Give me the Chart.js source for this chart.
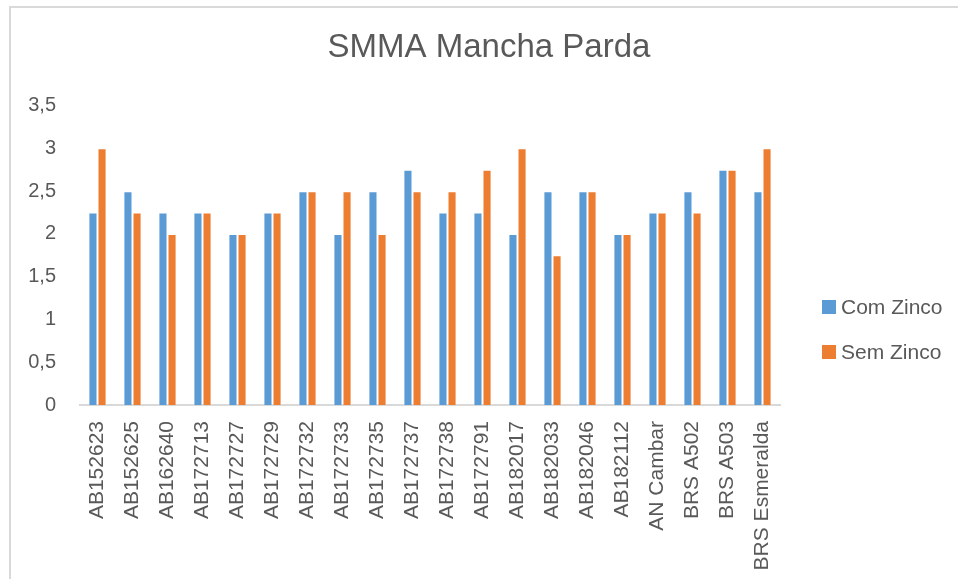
<!DOCTYPE html>
<html>
<head>
<meta charset="utf-8">
<script src="https://cdn.jsdelivr.net/npm/chart.js@4/dist/chart.umd.min.js"></script>
<style>
  html, body { margin: 0; padding: 0; background: #fff; }
  body { width: 958px; height: 579px; position: relative; overflow: hidden; font-family: "Liberation Sans", Arial, sans-serif; }
  #frame { position: absolute; left: 9px; top: 6px; width: 1000px; height: 700px; border-left: 2px solid #d9d9d9; border-top: 2px solid #d9d9d9; box-sizing: border-box; }
  #wrap { position: absolute; left: 0; top: 0; width: 958px; height: 579px; }
  #legend { position: absolute; left: 822px; top: 296px; }
  .item { position: absolute; left: 0; height: 22px; white-space: nowrap; }
  .sw { position: absolute; left: 0; top: 4px; width: 14px; height: 14px; }
  .lt { position: absolute; left: 19px; top: 0; font-size: 21px; line-height: 22px; color: #595959; }
</style>
</head>
<body>
<div id="frame"></div>
<div id="wrap"><canvas id="c" width="958" height="579"></canvas></div>
<div id="legend"></div>
<script>
const titleText = "SMMA Mancha Parda";
const categories = ["AB152623","AB152625","AB162640","AB172713","AB172727","AB172729","AB172732","AB172733","AB172735","AB172737","AB172738","AB172791","AB182017","AB182033","AB182046","AB182112","AN Cambar","BRS A502","BRS A503","BRS Esmeralda"];
const seriesNames = ["Com Zinco", "Sem Zinco"];
const comZinco = [2.25,2.5,2.25,2.25,2,2.25,2.5,2,2.5,2.75,2.25,2.25,2,2.5,2.5,2,2.25,2.5,2.75,2.5];
const semZinco = [3,2.25,2,2.25,2,2.25,2.5,2.5,2,2.5,2.5,2.75,3,1.75,2.5,2,2.25,2.25,2.75,3];
const yTicks = [0,0.5,1,1.5,2,2.5,3,3.5];
const colors = ["#5B9BD5", "#ED7D31"];

const textColor = "#595959";
const fontFamily = "'Liberation Sans', Arial, sans-serif";

// center the title over the whole chart frame rather than the plot area
const titleShift = {
  id: "titleShift",
  afterLayout(chart) {
    if (chart.titleBlock) { chart.titleBlock.left = 20; chart.titleBlock.right = 958; }
  }
};

const chart = new Chart(document.getElementById("c"), {
  type: "bar",
  data: {
    labels: categories,
    datasets: [
      { label: seriesNames[0], data: comZinco, backgroundColor: colors[0], borderColor: "rgba(255,255,255,0.55)", borderWidth: 1, categoryPercentage: 0.52, barPercentage: 1 },
      { label: seriesNames[1], data: semZinco, backgroundColor: colors[1], borderColor: "rgba(255,255,255,0.55)", borderWidth: 1, categoryPercentage: 0.52, barPercentage: 1 }
    ]
  },
  plugins: [titleShift],
  options: {
    responsive: false,
    animation: false,
    devicePixelRatio: 1,
    layout: { padding: { left: 12, right: 178, top: 0, bottom: 0 } },
    plugins: {
      legend: { display: false },
      tooltip: { enabled: false },
      title: {
        display: true,
        text: titleText,
        color: textColor,
        font: { family: fontFamily, size: 33, weight: "normal", lineHeight: 1.2 },
        padding: { top: 28, bottom: 38 }
      }
    },
    scales: {
      x: {
        grid: { display: false },
        border: { display: true, color: "#d9d9d9", width: 2 },
        ticks: {
          color: textColor,
          font: { family: fontFamily, size: 21 },
          minRotation: 90, maxRotation: 90,
          autoSkip: false,
          padding: 8
        },
        afterFit: (s) => { s.height = 174; }
      },
      y: {
        min: 0, max: 3.5,
        grid: { display: false },
        border: { display: false },
        afterBuildTicks: (s) => { s.ticks = yTicks.map(v => ({ value: v })); },
        ticks: {
          color: textColor,
          font: { family: fontFamily, size: 20 },
          padding: 16,
          callback: (v) => String(v).replace(".", ",")
        },
        afterFit: (s) => { s.width = 68; }
      }
    }
  }
});

const legendEl = document.getElementById("legend");
seriesNames.forEach((name, i) => {
  const it = document.createElement("div");
  it.className = "item";
  it.style.top = (i * 45) + "px";
  const sw = document.createElement("div");
  sw.className = "sw";
  sw.style.background = colors[i];
  const lt = document.createElement("div");
  lt.className = "lt";
  lt.textContent = name;
  it.appendChild(sw); it.appendChild(lt);
  legendEl.appendChild(it);
});
</script>
</body>
</html>
